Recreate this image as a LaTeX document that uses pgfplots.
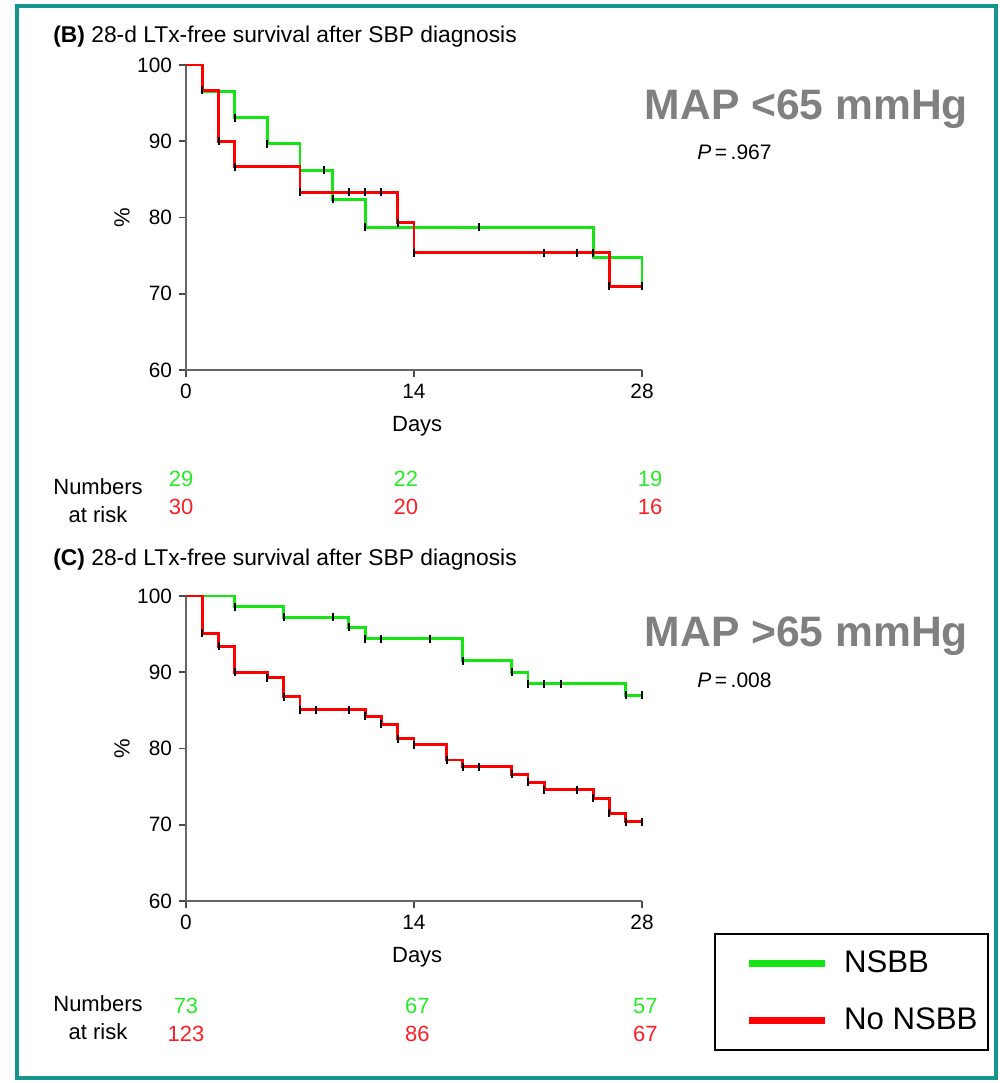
\documentclass[border=0pt]{standalone}
\usepackage{fontspec}
\setmainfont{Liberation Sans}
\usepackage{pgfplots}
\pgfplotsset{compat=1.18}
\definecolor{kmgreen}{RGB}{20,230,20}
\definecolor{kmred}{RGB}{255,0,0}
\definecolor{txtgreen}{RGB}{40,235,40}
\definecolor{txtred}{RGB}{255,30,40}
\definecolor{framecol}{RGB}{20,150,140}
\definecolor{mapgray}{RGB}{128,128,128}

\tikzset{nrisk/.style={font=\fontsize{11}{13}\selectfont, anchor=center}}
\pgfplotsset{kmaxis/.style={
  width=228pt, height=152.5pt, scale only axis,
  xmin=0, xmax=28, ymin=60, ymax=100,
  axis lines=left, axis line style={-, black!60, line width=1pt},
  xtick={0,14,28}, ytick={60,70,80,90,100},
  tick align=outside, major tick length=3.5pt,
  tick style={black!70, line width=0.8pt},
  tick label style={font=\fontsize{10.4}{12}\selectfont},
  /pgf/number format/assume math mode=true,
  clip=false,
  xlabel={Days}, ylabel={\%},
  label style={font=\fontsize{11}{13}\selectfont},
  xlabel style={at={(axis description cs:0.507,-0.185)}, anchor=center},
  ylabel style={at={(axis description cs:-0.14,0.5)}, anchor=center},
},
kmline/.style={const plot, line width=1.45pt, mark=none},
censor/.style={only marks, mark=|, mark size=2pt, black, mark options={line width=1pt}, forget plot},
}

\begin{document}
\begin{tikzpicture}
\useasboundingbox (0pt,0pt) rectangle (500pt,-541.5pt);
\draw[framecol, line width=2pt] (8.5pt,-3pt) rectangle (498pt,-539pt);

% ---------------- Panel B ----------------
\node[anchor=west, inner sep=0pt, font=\fontsize{11.4}{13}\selectfont] at (26.5pt,-18.5pt) {\textbf{(B)} 28-d LTx-free survival after SBP diagnosis};
\node[anchor=center, font=\fontsize{21.3}{24}\selectfont\bfseries, text=mapgray] at (403.25pt,-54.5pt) {MAP <65 mmHg};
\node[anchor=west, inner sep=0pt, font=\fontsize{10.5}{12}\selectfont] at (348.5pt,-76pt) {\textit{P}\,=\,.967};
\node[align=center, font=\fontsize{11}{14}\selectfont] at (49pt,-250.5pt) {Numbers\\at risk};

\begin{axis}[kmaxis, at={(93pt,-185pt)}, anchor=south west]
\addplot[kmline, kmgreen] coordinates {(0,100) (1,96.55) (3,93.1) (5,89.66) (7,86.2) (9,82.4) (11,78.7) (25,74.8) (28,71) };
\addplot[kmline, kmred] coordinates {(0,100) (1,96.67) (2,90) (3,86.67) (7,83.33) (13,79.3) (14,75.4) (26,71.0) (28,71.0)};
\addplot[censor] coordinates {(3,93.1) (5,89.66) (8.5,86.2) (9,82.4) (11,78.7) (18,78.7) (28,71)};
\addplot[censor] coordinates {(1,96.67) (2,90) (3,86.67) (7,83.33) (10,83.33) (11,83.33) (12,83.33) (13,79.3) (14,75.4) (22,75.4) (24,75.4) (25,75.4) (26,71)};
\node[nrisk, text=txtgreen] at (axis cs:-0.3,45.7) {29};
\node[nrisk, text=txtgreen] at (axis cs:13.5,45.7) {22};
\node[nrisk, text=txtgreen] at (axis cs:28.5,45.7) {19};
\node[nrisk, text=txtred] at (axis cs:-0.3,42.0) {30};
\node[nrisk, text=txtred] at (axis cs:13.5,42.0) {20};
\node[nrisk, text=txtred] at (axis cs:28.5,42.0) {16};
\end{axis}

% ---------------- Panel C ----------------
\node[anchor=west, inner sep=0pt, font=\fontsize{11.4}{13}\selectfont] at (26.5pt,-280pt) {\textbf{(C)} 28-d LTx-free survival after SBP diagnosis};
\node[anchor=center, font=\fontsize{21.3}{24}\selectfont\bfseries, text=mapgray] at (403.25pt,-318pt) {MAP >65 mmHg};
\node[anchor=west, inner sep=0pt, font=\fontsize{10.5}{12}\selectfont] at (348.5pt,-340pt) {\textit{P}\,=\,.008};
\node[align=center, font=\fontsize{11}{14}\selectfont] at (49pt,-509pt) {Numbers\\at risk};

\begin{axis}[kmaxis, at={(93pt,-450.5pt)}, anchor=south west,
  legend style={at={(1.158,-0.105)}, anchor=north west, draw=black, line width=1pt, fill=white,
    font=\fontsize{15.6}{19}\selectfont, inner xsep=5pt, inner ysep=8.5pt, row sep=16pt,
    nodes={inner sep=0pt}},
  /tikz/every odd column/.append style={column sep=8pt},
  legend cell align=left,
  legend image code/.code={\path (0pt,0pt); \draw[#1, line width=3.5pt] (11pt,0pt) -- (49pt,0pt);},
]
\addplot[kmline, kmgreen] coordinates {(0,100) (3,98.6) (6,97.2) (10,95.9) (11,94.4) (17,91.5) (20,90.0) (21,88.5) (27,87.0) (28,87.0)};
\addlegendentry{NSBB}
\addplot[kmline, kmred] coordinates {(0,100) (1,95.1) (2,93.4) (3,90.0) (5,89.3) (6,86.8) (7,85.1) (11,84.2) (12,83.2) (13,81.3) (14,80.5) (16,78.5) (17,77.6) (20,76.6) (21,75.6) (22,74.6) (25,73.5) (26,71.5) (27,70.4) (28,70.4)};
\addlegendentry{No NSBB}
\addplot[censor] coordinates {(3,98.6) (6,97.2) (9,97.2) (10,95.9) (11,94.4) (12,94.4) (15,94.4) (17,91.5) (20,90.0) (21,88.5) (22,88.5) (23,88.5) (27,87.0) (28,87.0)};
\addplot[censor] coordinates {(1,95.1) (2,93.4) (3,90.0) (5,89.3) (6,86.8) (7,85.1) (8,85.1) (10,85.1) (11,84.2) (12,83.2) (13,81.3) (14,80.5) (16,78.5) (17,77.6) (18,77.6) (20,76.6) (21,75.6) (22,74.6) (24,74.6) (25,73.5) (26,71.5) (27,70.4) (28,70.4)};
\node[nrisk, text=txtgreen] at (axis cs:0,46.2) {73};
\node[nrisk, text=txtgreen] at (axis cs:14.2,46.2) {67};
\node[nrisk, text=txtgreen] at (axis cs:28.2,46.2) {57};
\node[nrisk, text=txtred] at (axis cs:0,42.6) {123};
\node[nrisk, text=txtred] at (axis cs:14.2,42.6) {86};
\node[nrisk, text=txtred] at (axis cs:28.2,42.6) {67};
\end{axis}
\end{tikzpicture}
\end{document}
